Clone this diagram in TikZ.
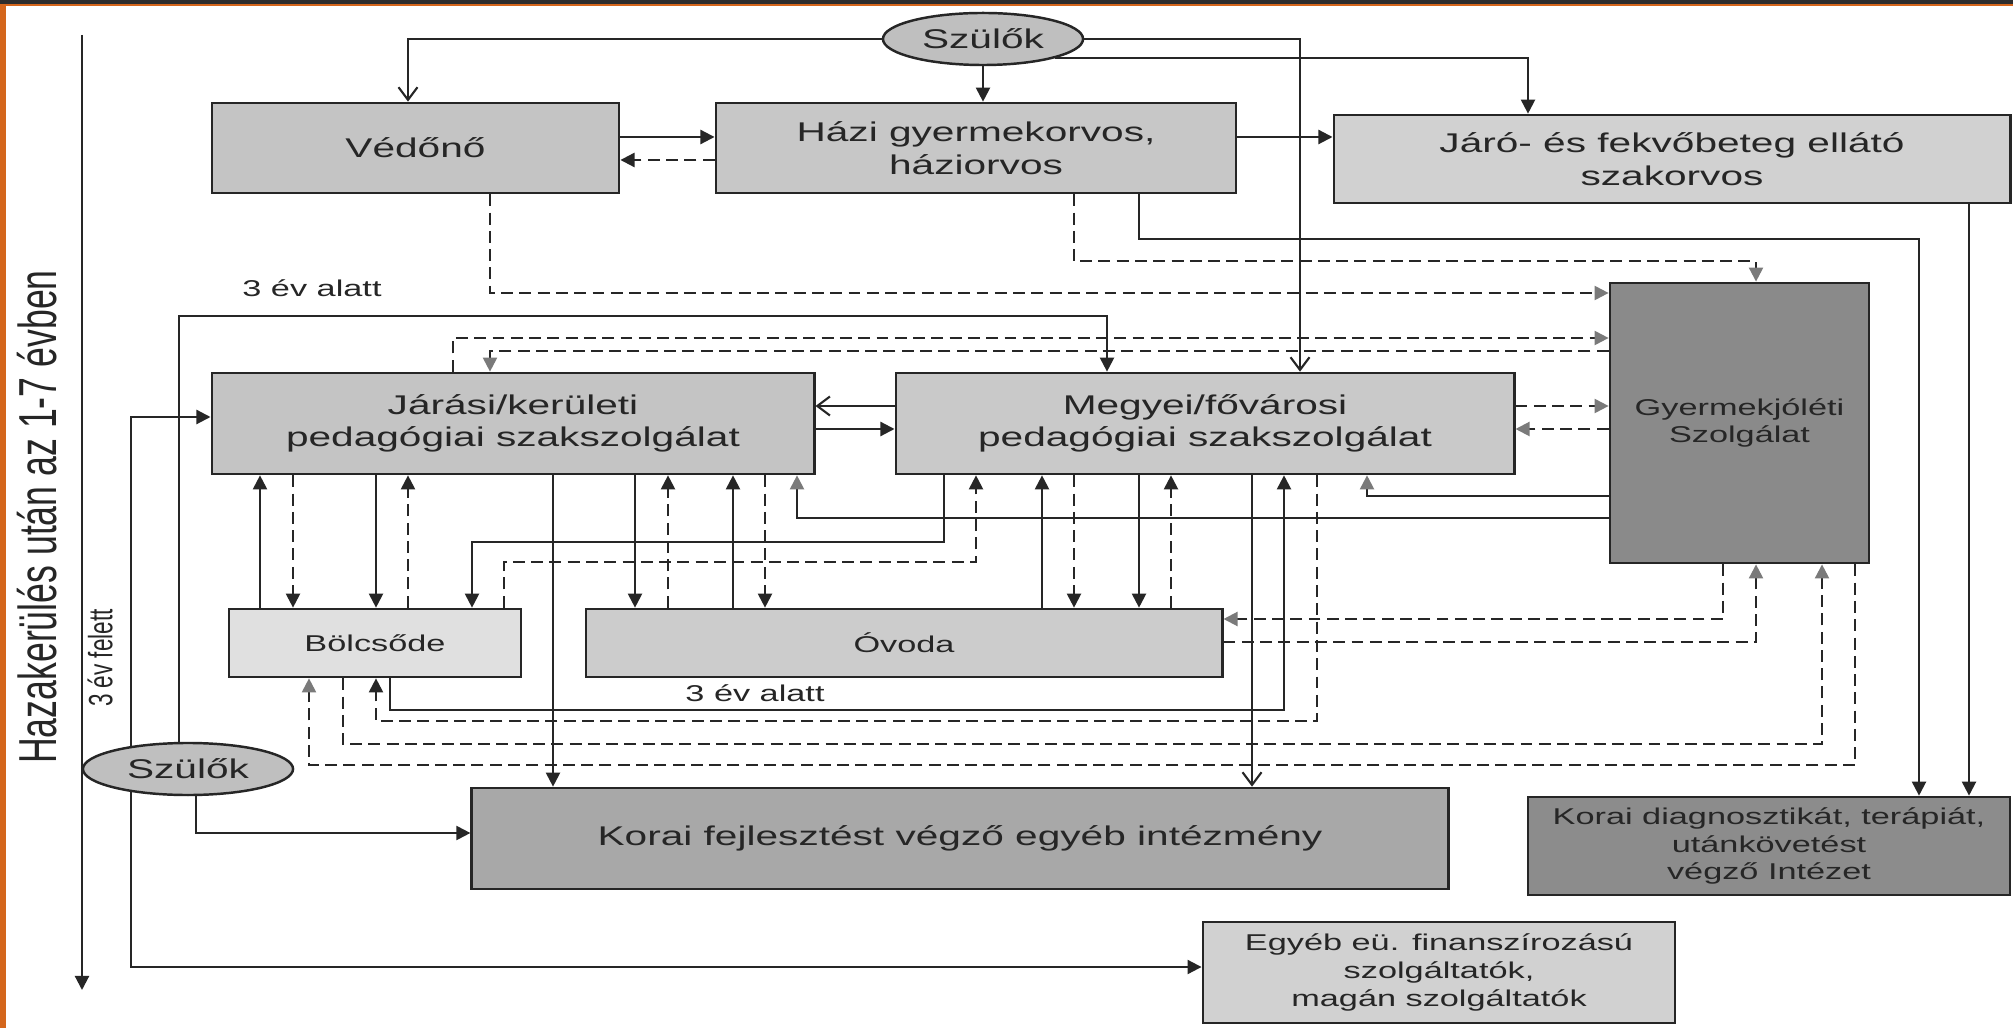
\documentclass[tikz,border=0pt]{standalone}
\usepackage{fontspec}
\setmainfont{Liberation Sans}[FakeStretch=1.5]
\newfontfamily\rotfont{Liberation Sans}[FakeStretch=0.667]
\usetikzlibrary{arrows.meta,shapes.geometric}
\pgfdeclarelayer{back}
\pgfsetlayers{back,main}
\definecolor{frame}{HTML}{2D2D2D}
\definecolor{rim}{HTML}{D4661C}
\definecolor{ink}{HTML}{262626}
\definecolor{gink}{HTML}{7A7A7A}
\begin{document}
\begin{tikzpicture}[x=0.01cm,y=-0.01cm]
\tikzstyle{every node}=[inner sep=0pt, text=ink]
\tikzstyle{big}=[font=\fontsize{7.7}{9.2}\selectfont]
\tikzstyle{small}=[font=\fontsize{6.5}{7.9}\selectfont]
\tikzstyle{box}=[draw=ink, line width=0.75pt, rectangle, align=center]
\tikzstyle{ell}=[draw=ink, line width=0.7pt, ellipse, fill=black!25, big]
\tikzstyle{line}=[draw=ink, line width=0.6pt]
\tikzstyle{arr}=[line, -{Triangle[length=4pt,width=4pt]}]
\tikzstyle{oarr}=[line, -{Straight Barb[length=3.6pt,width=5.4pt]}]
\tikzstyle{darr}=[arr, dash pattern=on 3.4pt off 1.8pt]
\tikzstyle{garr}=[line, -{Triangle[length=4pt,width=4pt,color=gink]}]
\tikzstyle{gdarr}=[garr, dash pattern=on 3.4pt off 1.8pt]
\begin{pgfonlayer}{back}
\fill[white] (0,0) rectangle (2013,1028);
\fill[rim] (0,0) rectangle (6,1028);
\fill[rim] (0,0) rectangle (2013,6);
\fill[frame] (0,0) rectangle (2013,4);
\end{pgfonlayer}
\useasboundingbox (0,0) rectangle (2013,1028);
\draw (983,39) node (szul1) [ell, minimum width=2cm, minimum height=0.52cm] {Szülők};
\draw (188,769) node (szul2) [ell, minimum width=2.1cm, minimum height=0.52cm] {Szülők};
\draw (415.5,148) node (vedo) [box, big, fill=black!23, minimum width=4.07cm, minimum height=0.9cm] {Védőnő};
\draw (976,148) node (hazi) [box, big, fill=black!22, minimum width=5.2cm, minimum height=0.9cm] {Házi gyermekorvos,\\háziorvos};
\draw (1672,159) node (jaro) [box, big, fill=black!18, minimum width=6.76cm, minimum height=0.88cm] {Járó- és fekvőbeteg ellátó\\szakorvos};
\draw (513,423.5) node (jaras) [box, big, fill=black!23, minimum width=6.02cm, minimum height=1.01cm] {Járási/kerületi\\pedagógiai szakszolgálat};
\draw (1205,423.5) node (megy) [box, big, fill=black!21, minimum width=6.18cm, minimum height=1.01cm] {Megyei/fővárosi\\pedagógiai szakszolgálat};
\draw (1739.5,423) node (gyj) [box, small, fill=black!46, minimum width=2.59cm, minimum height=2.8cm] {Gyermekjóléti\\Szolgálat};
\draw (375,643) node (bolcs) [box, small, fill=black!12, minimum width=2.92cm, minimum height=0.68cm] {Bölcsőde};
\draw (904,643) node (ovoda) [box, small, fill=black!20, minimum width=6.36cm, minimum height=0.68cm] {Óvoda};
\draw (960,838.5) node (kfejl) [box, big, fill=black!34, minimum width=9.76cm, minimum height=1.01cm] {Korai fejlesztést végző egyéb intézmény};
\draw (1769,846) node (kdiag) [box, small, fill=black!45, minimum width=4.82cm, minimum height=0.98cm] {Korai diagnosztikát, terápiát,\\utánkövetést\\végző Intézet};
\draw (1439,972.5) node (egyeb) [box, small, fill=black!18, minimum width=4.72cm, minimum height=1.01cm] {Egyéb eü. finanszírozású\\szolgáltatók,\\magán szolgáltatók};
\draw (312,288) node (alatt1) [small] {3 év alatt};
\draw (755,693) node (alatt2) [small] {3 év alatt};
\draw (37,517) node (haza) [rotate=90, font=\rotfont\fontsize{15.2}{18}\selectfont] {Hazakerülés után az 1-7 évben};
\draw (100,658) node (felett) [rotate=90, font=\rotfont\fontsize{9.6}{11}\selectfont] {3 év felett};
\coordinate (ax1) at (82,35);
\coordinate (ax2) at (82,990);
\draw[arr] (ax1) -- (ax2);
\draw[oarr] (szul1.west) -| (vedo.north -| 408,0);
\draw[arr] (szul1.south) -- (szul1.south |- hazi.north);
\draw[oarr] (szul1.east) -| (megy.north -| 1300,0);
\draw[arr] (szul1.south east) -| (jaro.north -| 1528,0);
\draw[arr] (vedo.east |- 0,137) -- (hazi.west |- 0,137);
\draw[darr] (hazi.west |- 0,160) -- (vedo.east |- 0,160);
\draw[arr] (hazi.east |- 0,137) -- (jaro.west |- 0,137);
\draw[arr] (hazi.south -| 1139,0) -- ++(0,45) -| (kdiag.north -| 1919,0);
\draw[arr] (jaro.south -| 1969,0) -- (kdiag.north -| 1969,0);
\draw[gdarr] (hazi.south -| 1074,0) -- ++(0,67) -| (gyj.north -| 1756,0);
\draw[gdarr] (vedo.south -| 490,0) |- (gyj.west |- 0,293);
\draw[arr] (szul2.north -| 179,0) -- ++(0,-426) -| (megy.north -| 1107,0);
\begin{pgfonlayer}{back}
\draw[arr] (szul2.center -| 131,0) |- (jaras.west |- 0,417);
\draw[arr] (szul2.center -| 131,0) |- (egyeb.west |- 0,967);
\end{pgfonlayer}
\draw[arr] (szul2.south -| 196,0) |- (kfejl.west |- 0,833);
\draw[oarr] (megy.west |- 0,406) -- (jaras.east |- 0,406);
\draw[arr] (jaras.east |- 0,429) -- (megy.west |- 0,429);
\draw[gdarr] (megy.east |- 0,406) -- (gyj.west |- 0,406);
\draw[gdarr] (gyj.west |- 0,429) -- (megy.east |- 0,429);
\draw[gdarr] (jaras.north -| 453,0) |- (gyj.west |- 0,338);
\draw[gdarr] (gyj.west |- 0,351) -| (jaras.north -| 490,0);
\draw[arr] (bolcs.north -| 260,0) -- (jaras.south -| 260,0);
\draw[darr] (jaras.south -| 293,0) -- (bolcs.north -| 293,0);
\draw[arr] (jaras.south -| 376,0) -- (bolcs.north -| 376,0);
\draw[darr] (bolcs.north -| 408,0) -- (jaras.south -| 408,0);
\draw[arr] (megy.south -| 944,0) -- ++(0,67) -| (bolcs.north -| 472,0);
\draw[darr] (bolcs.north -| 504,0) -- ++(0,-46) -| (megy.south -| 976,0);
\draw[arr] (jaras.south -| 553,0) -- (kfejl.north -| 553,0);
\draw[arr] (jaras.south -| 635,0) -- (ovoda.north -| 635,0);
\draw[darr] (ovoda.north -| 668,0) -- (jaras.south -| 668,0);
\draw[arr] (ovoda.north -| 733,0) -- (jaras.south -| 733,0);
\draw[darr] (jaras.south -| 765,0) -- (ovoda.north -| 765,0);
\draw[garr] (gyj.west |- 0,518) -| (jaras.south -| 797,0);
\draw[garr] (gyj.west |- 0,496) -| (megy.south -| 1367,0);
\draw[arr] (ovoda.north -| 1042,0) -- (megy.south -| 1042,0);
\draw[darr] (megy.south -| 1074,0) -- (ovoda.north -| 1074,0);
\draw[arr] (megy.south -| 1139,0) -- (ovoda.north -| 1139,0);
\draw[darr] (ovoda.north -| 1171,0) -- (megy.south -| 1171,0);
\draw[oarr] (megy.south -| 1252,0) -- (kfejl.north -| 1252,0);
\draw[arr] (bolcs.south -| 390,0) -- ++(0,32) -| (megy.south -| 1284,0);
\draw[darr] (megy.south -| 1317,0) -- ++(0,246) -| (bolcs.south -| 376,0);
\draw[gdarr] (bolcs.south -| 343,0) -- ++(0,66) -| (gyj.south -| 1822,0);
\draw[gdarr] (gyj.south -| 1855,0) -- ++(0,201) -| (bolcs.south -| 309,0);
\draw[gdarr] (gyj.south -| 1723,0) |- (ovoda.east |- 0,619);
\draw[gdarr] (ovoda.east |- 0,642) -| (gyj.south -| 1756,0);
\end{tikzpicture}
\end{document}
